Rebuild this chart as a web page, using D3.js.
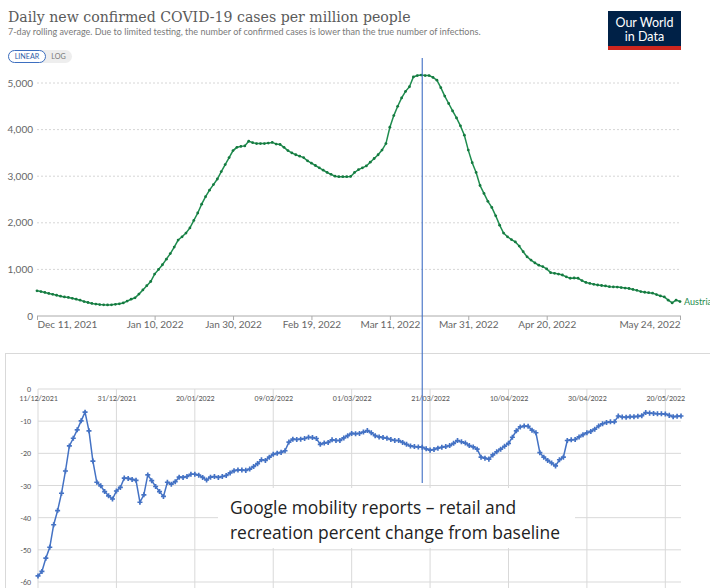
<!DOCTYPE html>
<html>
<head>
<meta charset="utf-8">
<script src="https://d3js.org/d3.v7.min.js"></script>
<style>
  body { margin: 0; background: #fff; }
  svg { display: block; }
</style>
</head>
<body>
<svg width="710" height="588"></svg>
<script>

// first day of both series, one value per day after it
var startDate = new Date(2021, 11, 11);

// daily new confirmed cases per million, 7-day average (Austria)
var cases = [540, 525, 505, 485, 465, 445, 425, 410, 398, 380,
  360, 340, 310, 290, 270, 255, 245, 240, 238, 240,
  250, 262, 280, 320, 360, 390, 470, 560, 650, 740,
  900, 1000, 1100, 1220, 1340, 1480, 1630, 1700, 1780, 1890,
  2050, 2210, 2400, 2560, 2700, 2820, 2940, 3100, 3250, 3400,
  3550, 3620, 3640, 3650, 3750, 3720, 3700, 3700, 3700, 3710,
  3725, 3690, 3680, 3620, 3550, 3500, 3460, 3430, 3400, 3330,
  3280, 3230, 3180, 3130, 3080, 3040, 3000, 2990, 2990, 2990,
  2995, 3080, 3140, 3180, 3220, 3300, 3380, 3460, 3560, 3700,
  4050, 4300, 4500, 4680, 4820, 4920, 5130, 5160, 5170, 5160,
  5160, 5120, 5060, 4900, 4720, 4560, 4400, 4250, 4080, 3880,
  3560, 3290, 3080, 2800, 2630, 2460, 2330, 2150, 1950, 1780,
  1700, 1640, 1590, 1500, 1380, 1270, 1200, 1140, 1090, 1060,
  1010, 930, 915, 900, 880, 840, 810, 815, 810, 760,
  720, 700, 680, 665, 655, 645, 630, 625, 620, 610,
  600, 590, 570, 550, 525, 510, 500, 490, 460, 430,
  410, 340, 280, 340, 310];

// Google mobility: retail and recreation, % change from baseline
var mobility = [-58.1, -56.7, -52.6, -49.2, -42.2, -37.8, -32.4, -25.5, -17.7, -15.3,
  -12.7, -9.9, -7.2, -13.0, -22.4, -29.0, -30.1, -31.9, -33.2, -34.2,
  -31.7, -30.6, -27.7, -27.8, -28.1, -28.4, -35.2, -32.9, -26.7, -28.5,
  -30.3, -31.9, -33.4, -29.0, -29.6, -28.8, -27.4, -27.5, -27.2, -26.5,
  -26.5, -26.8, -27.5, -28.3, -27.4, -27.2, -27.5, -27.2, -26.9, -26.1,
  -25.4, -25.2, -25.2, -25.3, -24.9, -24.1, -23.2, -22.0, -22.2, -21.2,
  -20.3, -20.0, -19.7, -19.2, -16.5, -15.6, -15.7, -15.6, -15.4, -15.0,
  -15.1, -15.4, -17.2, -16.8, -16.6, -15.8, -16.0, -16.0, -15.2, -14.5,
  -13.8, -13.9, -13.8, -13.4, -12.9, -13.6, -14.5, -14.9, -15.1, -15.3,
  -15.7, -16.0, -16.0, -16.6, -17.2, -17.7, -17.9, -18.0, -18.1, -18.6,
  -19.0, -18.8, -18.4, -18.1, -17.9, -17.6, -16.9, -16.0, -16.4, -16.8,
  -17.6, -18.0, -18.7, -21.2, -21.5, -21.8, -20.5, -19.5, -18.7, -17.8,
  -16.9, -15.0, -13.0, -11.8, -11.5, -11.6, -12.8, -13.6, -19.8, -21.2,
  -22.2, -23.0, -23.9, -22.0, -21.2, -16.0, -15.8, -15.7, -14.9, -14.2,
  -13.6, -13.2, -12.5, -11.5, -10.8, -10.4, -10.2, -10.2, -8.4, -8.7,
  -8.8, -8.6, -8.6, -8.5, -8.3, -7.3, -7.5, -7.6, -7.7, -7.7,
  -7.8, -8.2, -8.6, -8.5, -8.4];

// top (OWID) axis
var topTickDates = [new Date(2021, 11, 11), new Date(2022, 0, 10), new Date(2022, 0, 30),
  new Date(2022, 1, 19), new Date(2022, 2, 11), new Date(2022, 2, 31),
  new Date(2022, 3, 20), new Date(2022, 4, 24)];
var topTickLabels = ["Dec 11, 2021", "Jan 10, 2022", "Jan 30, 2022", "Feb 19, 2022",
  "Mar 11, 2022", "Mar 31, 2022", "Apr 20, 2022", "May 24, 2022"];
var topYTicks = [0, 1000, 2000, 3000, 4000, 5000];

// bottom (Excel) axis
var botTickDates = [new Date(2021, 11, 11), new Date(2021, 11, 31), new Date(2022, 0, 20),
  new Date(2022, 1, 9), new Date(2022, 2, 1), new Date(2022, 2, 21),
  new Date(2022, 3, 10), new Date(2022, 3, 30), new Date(2022, 4, 20)];
var botTickLabels = ["11/12/2021", "31/12/2021", "20/01/2022", "09/02/2022", "01/03/2022",
  "21/03/2022", "10/04/2022", "30/04/2022", "20/05/2022"];
var botYTicks = [0, -10, -20, -30, -40, -50, -60];

var markerDate = new Date(2022, 2, 19);

var caseData = cases.map(function(v, i) { return {date: d3.timeDay.offset(startDate, i), value: v}; });
var mobData = mobility.map(function(v, i) { return {date: d3.timeDay.offset(startDate, i), value: v}; });
var endDate = caseData[caseData.length - 1].date;

var svg = d3.select("svg");
var owidFont = "Lato, 'Open Sans', sans-serif";
var green = "#1e8c4e";
var blue = "#4472c4";

// fit a text element to a width by changing its font size
function fitWidth(sel, w) {
  var fs = parseFloat(sel.attr("font-size"));
  var len = sel.node().getComputedTextLength();
  sel.attr("font-size", (fs * w / len).toFixed(2));
}

// ---------- OWID header ----------
var title = svg.append("text")
  .attr("x", 8).attr("y", 22)
  .attr("font-family", "'DejaVu Serif', 'Liberation Serif', serif")
  .attr("font-size", 16)
  .attr("fill", "#5b5b5b")
  .text("Daily new confirmed COVID-19 cases per million people");
fitWidth(title, 403);

var sub = svg.append("text")
  .attr("x", 8).attr("y", 35)
  .attr("font-family", owidFont)
  .attr("font-size", 8)
  .attr("fill", "#7a7a7a")
  .text("7-day rolling average. Due to limited testing, the number of confirmed cases is lower than the true number of infections.");
fitWidth(sub, 473);

var tog = svg.append("g");
tog.append("rect").attr("x", 8).attr("y", 50).attr("width", 64).attr("height", 13)
  .attr("rx", 6.5).attr("fill", "#eeeeee");
tog.append("rect").attr("x", 8.5).attr("y", 50.5).attr("width", 37).attr("height", 12)
  .attr("rx", 6).attr("fill", "#fff").attr("stroke", "#3d6fc0").attr("stroke-width", 1);
tog.append("text").attr("x", 27).attr("y", 59.3).attr("text-anchor", "middle")
  .attr("font-family", owidFont).attr("font-size", 7.2).attr("fill", "#2f5ea8")
  .text("LINEAR");
tog.append("text").attr("x", 58.5).attr("y", 59.3).attr("text-anchor", "middle")
  .attr("font-family", owidFont).attr("font-size", 7.2).attr("fill", "#777")
  .text("LOG");

var logo = svg.append("g");
logo.append("rect").attr("x", 608).attr("y", 11).attr("width", 73).attr("height", 39).attr("fill", "#002147");
logo.append("rect").attr("x", 608).attr("y", 46).attr("width", 73).attr("height", 4).attr("fill", "#ce261e");
logo.append("text").attr("x", 644.5).attr("y", 27).attr("text-anchor", "middle")
  .attr("font-family", owidFont).attr("font-size", 12.5).attr("fill", "#fff").text("Our World");
logo.append("text").attr("x", 644.5).attr("y", 41).attr("text-anchor", "middle")
  .attr("font-family", owidFont).attr("font-size", 12.5).attr("fill", "#fff").text("in Data");

// ---------- top chart ----------
var xTop = d3.scaleTime().domain([startDate, endDate]).range([37, 680]);
var yTop = d3.scaleLinear().domain([0, 5000]).range([316, 83]);

var gTop = svg.append("g");

gTop.selectAll(".tgrid")
  .data(topYTicks.slice(1))
  .enter().append("line")
  .attr("x1", 37).attr("x2", 681)
  .attr("y1", function(d) { return yTop(d); })
  .attr("y2", function(d) { return yTop(d); })
  .attr("stroke", "#d6d6d6")
  .attr("stroke-dasharray", "2,2");

gTop.selectAll(".tylab")
  .data(topYTicks)
  .enter().append("text")
  .attr("x", 33)
  .attr("y", function(d) { return yTop(d) + 3.5; })
  .attr("text-anchor", "end")
  .attr("font-family", owidFont).attr("font-size", 10).attr("fill", "#666")
  .text(function(d) { return d3.format(",")(d); });

var xAxisTop = d3.axisBottom(xTop)
  .tickValues(topTickDates)
  .tickSize(4)
  .tickFormat(function(d, i) { return topTickLabels[i]; });

var ax = gTop.append("g")
  .attr("transform", "translate(0,316)")
  .call(xAxisTop);
ax.select(".domain").attr("stroke", "#aaa").attr("d", "M37,0H681");
ax.selectAll(".tick line").attr("stroke", "#aaa");
ax.selectAll(".tick text")
  .attr("font-family", owidFont).attr("font-size", 10).attr("fill", "#666")
  .attr("dy", "0.45em")
  .attr("text-anchor", function(d, i) {
    return i === 0 ? "start" : (i === topTickLabels.length - 1 ? "end" : "middle");
  });

var lineTop = d3.line()
  .x(function(d) { return xTop(d.date); })
  .y(function(d) { return yTop(d.value); });

gTop.append("path")
  .datum(caseData)
  .attr("d", lineTop)
  .attr("fill", "none")
  .attr("stroke", green)
  .attr("stroke-width", 1.5);

gTop.selectAll(".dot")
  .data(caseData)
  .enter().append("circle")
  .attr("cx", function(d) { return xTop(d.date); })
  .attr("cy", function(d) { return yTop(d.value); })
  .attr("r", 1.4)
  .attr("fill", "#157a40");

// series label runs off the right edge, as in the source screenshot
var last = caseData[caseData.length - 1];
gTop.append("text")
  .attr("x", xTop(last.date) + 4)
  .attr("y", yTop(last.value) + 3)
  .attr("font-family", owidFont).attr("font-size", 9).attr("fill", green)
  .text("Austria");

// ---------- bottom chart ----------
var xBot = d3.scaleTime().domain([startDate, endDate]).range([38, 681]);
var yBot = d3.scaleLinear().domain([-60, 0]).range([582, 389]);
var xlFont = "Calibri, Carlito, 'Liberation Sans', sans-serif";

var gBot = svg.append("g");
gBot.append("rect")
  .attr("x", 5.5).attr("y", 353.5).attr("width", 720).attr("height", 260)
  .attr("fill", "#fff").attr("stroke", "#d9d9d9");

gBot.selectAll(".vgrid")
  .data(botTickDates)
  .enter().append("line")
  .attr("x1", function(d) { return xBot(d); })
  .attr("x2", function(d) { return xBot(d); })
  .attr("y1", yBot(0)).attr("y2", 600)
  .attr("stroke", "#d9d9d9");

gBot.selectAll(".hgrid")
  .data(botYTicks)
  .enter().append("line")
  .attr("x1", 38).attr("x2", 681)
  .attr("y1", function(d) { return yBot(d); })
  .attr("y2", function(d) { return yBot(d); })
  .attr("stroke", "#d9d9d9");

gBot.selectAll(".bylab")
  .data(botYTicks)
  .enter().append("text")
  .attr("x", 31)
  .attr("y", function(d) { return yBot(d) + 3; })
  .attr("text-anchor", "end")
  .attr("font-family", xlFont).attr("font-size", 8).attr("fill", "#595959")
  .text(function(d) { return d; });

var xAxisBot = d3.axisBottom(xBot)
  .tickValues(botTickDates)
  .tickSize(0)
  .tickPadding(6)
  .tickFormat(function(d, i) { return botTickLabels[i]; });

var bx = gBot.append("g")
  .attr("transform", "translate(0," + yBot(0) + ")")
  .call(xAxisBot);
bx.select(".domain").remove();
bx.selectAll(".tick text")
  .attr("font-family", xlFont).attr("font-size", 8).attr("fill", "#595959");

var lineBot = d3.line()
  .x(function(d) { return xBot(d.date); })
  .y(function(d) { return yBot(d.value); });

gBot.append("path")
  .datum(mobData)
  .attr("d", lineBot)
  .attr("fill", "none")
  .attr("stroke", blue)
  .attr("stroke-width", 1.5);

var marker = d3.symbol().type(d3.symbolCross).size(14);
gBot.selectAll(".mk")
  .data(mobData)
  .enter().append("path")
  .attr("d", marker)
  .attr("transform", function(d) { return "translate(" + xBot(d.date) + "," + yBot(d.value) + ")"; })
  .attr("fill", blue);

// text box
gBot.append("rect")
  .attr("x", 218).attr("y", 488).attr("width", 357).attr("height", 60)
  .attr("fill", "#fff");
var t1 = gBot.append("text")
  .attr("x", 230).attr("y", 514)
  .attr("font-family", "'Open Sans', 'Noto Sans', sans-serif")
  .attr("font-size", 17).attr("fill", "#222")
  .text("Google mobility reports \u2013 retail and");
var t2 = gBot.append("text")
  .attr("x", 230).attr("y", 539)
  .attr("font-family", "'Open Sans', 'Noto Sans', sans-serif")
  .attr("font-size", 17).attr("fill", "#222")
  .text("recreation percent change from baseline");
fitWidth(t2, 330);
t1.attr("font-size", t2.attr("font-size"));

// vertical marker line across both charts
svg.append("line")
  .attr("x1", xTop(markerDate) + 1).attr("x2", xTop(markerDate) + 1)
  .attr("y1", 58).attr("y2", 483)
  .attr("stroke", "#3f6fc4")
  .attr("stroke-width", 1.1);

</script>
</body>
</html>
